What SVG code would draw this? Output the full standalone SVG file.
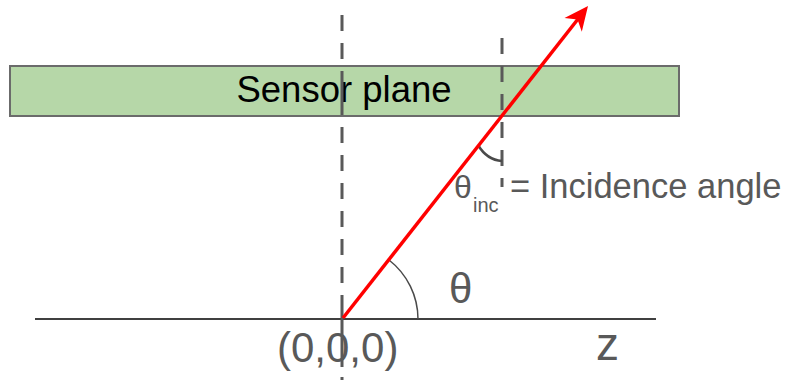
<svg xmlns="http://www.w3.org/2000/svg" width="788" height="380" viewBox="0 0 788 380">
<style>
.lbl{font-family:"Liberation Sans",Arial,sans-serif;fill:#595959}
.dash{stroke:#595959;stroke-width:3;fill:none}
.arc{stroke:#4a4a4a;fill:none}
</style>
<rect width="788" height="380" fill="#ffffff"/>
<g id="sensor-plane">
<rect x="10" y="66" width="669" height="50" fill="#b6d7a8" stroke="#6b6b6b" stroke-width="2"/>
<text x="344" y="102" font-family="Liberation Sans, Arial, sans-serif" font-size="36.5" fill="#000000" text-anchor="middle">Sensor plane</text>
</g>
<g id="axis">
<line x1="35" y1="319" x2="656" y2="319" stroke="#000000" stroke-width="1.5"/>
<text class="lbl" x="596" y="360" font-size="46">z</text>
<text class="lbl" x="277" y="362" font-size="42">(0,0,0)</text>
</g>
<g id="connectors">
<line class="dash" x1="342" y1="15" x2="342" y2="380" stroke-dasharray="16 12 16 12 44 12 16 12 16 12 16 12 16 12 16 12 16 12 72 10 20"/>
<line class="dash" x1="502" y1="38" x2="502" y2="187" stroke-dasharray="16 12"/>
<path class="arc" d="M418,319 A75,75 0 0 0 389,260" stroke-width="1.5"/>
<path class="arc" d="M478,145 Q487,160 502,161" stroke-width="2.5"/>
<line x1="343" y1="318" x2="578" y2="19" stroke="#ff0000" stroke-width="3.5"/>
<path d="M588,6 L581.8,31.7 L577.5,19.4 L564.5,18.1 Z" fill="#ff0000"/>
</g>
<g id="labels">
<text class="lbl" x="449" y="303" font-size="42">θ</text>
<text class="lbl" x="454" y="198" font-size="32">θ</text>
<text class="lbl" x="473" y="212" font-size="20">inc</text>
<text class="lbl" x="510" y="198" font-size="34.5">= Incidence angle</text>
</g>
</svg>
